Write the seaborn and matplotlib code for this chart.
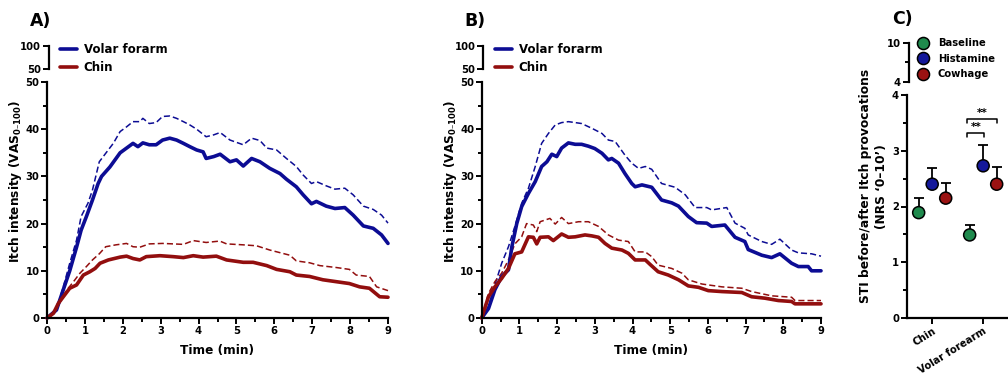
import numpy as np
import pandas as pd
import matplotlib
matplotlib.use("Agg")
import matplotlib.pyplot as plt
from matplotlib.lines import Line2D
from matplotlib.ticker import MultipleLocator
import seaborn as sns

# ---------------- data ----------------
# Panel A: mean (solid) and mean+SEM (dashed), itch intensity VAS 0-100
tA_vf = [0, 0.25, 0.43, 0.6, 0.78, 0.9, 1.04, 1.2, 1.35, 1.44, 1.66, 1.93, 2.1, 2.27, 2.4, 2.53, 2.7, 2.88, 3.05, 3.24,
         3.42, 3.6, 3.77, 3.95, 4.12, 4.2, 4.4, 4.57, 4.83, 5.0, 5.18, 5.4, 5.62, 5.88, 6.15, 6.32, 6.58, 6.76, 6.98, 7.11,
         7.37, 7.6, 7.86, 8.08, 8.35, 8.61, 8.83, 9.0]
vA_vf = [0, 1.7, 6, 10, 15, 18.6, 21.5, 25, 28.5, 30, 32, 35, 36, 37, 36.3, 37.1, 36.7, 36.7, 37.7, 38.1,
         37.7, 37, 36.3, 35.6, 35.2, 33.8, 34.2, 34.7, 33.1, 33.5, 32.2, 33.8, 33.1, 31.7, 30.6, 29.4, 27.8, 26.1, 24.2, 24.7,
         23.7, 23.2, 23.4, 21.8, 19.5, 19, 17.6, 15.8]
tA_vf_up = [0, 0.25, 0.43, 0.6, 0.78, 0.9, 1.08, 1.2, 1.38, 1.55, 1.75, 1.93, 2.1, 2.27, 2.45, 2.53, 2.7, 2.88, 3.05, 3.24,
            3.42, 3.6, 3.77, 3.95, 4.2, 4.4, 4.57, 4.83, 5.18, 5.4, 5.62, 5.8, 6.06, 6.32, 6.58, 6.76, 6.98, 7.11, 7.37, 7.6,
            7.86, 8.08, 8.35, 8.61, 8.83, 9.0]
vA_vf_up = [0, 1.8, 6.6, 11.6, 16.5, 21.5, 24.3, 27.1, 33.1, 34.9, 37, 39.5, 40.5, 41.6, 41.6, 42.3, 41.2, 41.4, 42.7, 42.8,
            42.3, 41.6, 40.9, 40, 38.4, 38.8, 39.3, 37.7, 36.7, 38.1, 37.6, 36, 35.6, 33.8, 32.1, 30.3, 28.5, 28.9, 28, 27.3,
            27.5, 26.1, 23.7, 23, 21.8, 20.1]
tA_chin = [0, 0.17, 0.3, 0.43, 0.6, 0.78, 0.96, 1.13, 1.27, 1.4, 1.62, 1.93, 2.1, 2.27, 2.45, 2.62, 2.98, 3.33, 3.6, 3.86,
           4.12, 4.47, 4.74, 5.18, 5.44, 5.8, 6.06, 6.41, 6.58, 6.93, 7.28, 7.63, 7.98, 8.25, 8.51, 8.78, 9.0]
vA_chin = [0, 1, 3.1, 4.5, 6.3, 7, 9.1, 9.8, 10.5, 11.6, 12.3, 12.9, 13.1, 12.6, 12.3, 13, 13.2, 13, 12.8, 13.2,
           12.9, 13.1, 12.3, 11.8, 11.8, 11.1, 10.3, 9.8, 9.1, 8.8, 8.1, 7.7, 7.3, 6.6, 6.3, 4.5, 4.4]
tA_chin_up = [0, 0.17, 0.35, 0.52, 0.7, 0.87, 1.04, 1.2, 1.38, 1.55, 1.82, 2.1, 2.27, 2.45, 2.7, 3.05, 3.33, 3.6, 3.86, 4.2,
              4.56, 4.74, 5.18, 5.53, 5.88, 6.41, 6.58, 6.93, 7.2, 7.63, 7.98, 8.16, 8.51, 8.7, 9.0]
vA_chin_up = [0, 1.1, 3.5, 5.9, 7.7, 9.5, 10.9, 12.3, 13.6, 15.1, 15.5, 15.8, 15.1, 15, 15.7, 15.8, 15.7, 15.6, 16.4, 16,
              16.3, 15.7, 15.5, 15.3, 14.4, 13.3, 12.1, 11.7, 11.1, 10.7, 10.3, 9.1, 8.8, 6.6, 5.8]

# Panel B
tB_vf = [0, 0.18, 0.35, 0.53, 0.71, 0.8, 0.93, 1.06, 1.24, 1.42, 1.59, 1.73, 1.86, 1.99, 2.12, 2.3, 2.48, 2.65, 2.83, 3.0,
         3.19, 3.36, 3.45, 3.63, 3.8, 3.98, 4.07, 4.25, 4.51, 4.77, 5.04, 5.22, 5.48, 5.7, 5.97, 6.1, 6.45, 6.72, 6.98, 7.07,
         7.43, 7.69, 7.91, 8.22, 8.4, 8.66, 8.75, 9.0]
vB_vf = [0, 2, 6, 8.8, 10.2, 15.1, 20, 23.6, 26.4, 28.9, 32.1, 33.1, 34.7, 34.2, 36, 37.1, 36.8, 36.8, 36.4, 35.9,
         34.9, 33.5, 33.8, 32.8, 30.6, 28.5, 27.8, 28.2, 27.7, 25, 24.4, 23.7, 21.5, 20.2, 20.1, 19.4, 19.7, 17.1, 16.2, 14.5,
         13.3, 12.8, 13.6, 11.6, 10.9, 10.9, 10, 10]
tB_vf_up = [0, 0.18, 0.35, 0.53, 0.71, 0.88, 1.06, 1.24, 1.42, 1.59, 1.77, 1.95, 2.12, 2.3, 2.48, 2.65, 2.92, 3.19, 3.36, 3.54,
            3.8, 3.98, 4.16, 4.34, 4.51, 4.77, 5.13, 5.4, 5.66, 5.97, 6.1, 6.5, 6.72, 6.98, 7.07, 7.43, 7.69, 7.91, 8.22, 8.4,
            8.75, 9.0]
vB_vf_up = [0, 2.4, 7, 11.6, 15.1, 19.4, 24.3, 27.5, 32.1, 37, 39.1, 40.9, 41.4, 41.6, 41.4, 41.2, 40.2, 39.1, 37.7, 37.4,
            34.5, 32.8, 31.7, 32.1, 31.5, 28.5, 27.7, 26.1, 23.4, 23.4, 22.9, 23.4, 20.1, 19, 17.6, 16.2, 15.6, 16.7, 14.4, 13.8,
            13.6, 13.1]
tB_chin = [0, 0.18, 0.35, 0.53, 0.71, 0.88, 1.06, 1.24, 1.37, 1.46, 1.55, 1.77, 1.9, 2.12, 2.3, 2.48, 2.74, 2.92, 3.1, 3.27,
           3.45, 3.72, 3.89, 4.07, 4.34, 4.46, 4.68, 4.95, 5.22, 5.48, 5.75, 6.01, 6.37, 6.9, 7.16, 7.51, 7.87, 8.22, 8.31, 9.0]
vB_chin = [0, 4.5, 6.6, 8.4, 10.5, 13.6, 14, 17.2, 17.1, 15.7, 17.1, 17.2, 16.4, 17.8, 17.1, 17.2, 17.6, 17.4, 17.1, 15.8,
           14.8, 14.4, 13.7, 12.3, 12.3, 11.4, 9.8, 9.1, 8.1, 6.8, 6.5, 5.8, 5.6, 5.4, 4.5, 4.2, 3.7, 3.5, 3, 3]
tB_chin_up = [0, 0.18, 0.35, 0.53, 0.71, 0.88, 1.06, 1.19, 1.37, 1.46, 1.55, 1.81, 1.95, 2.12, 2.3, 2.57, 2.83, 3.1, 3.36, 3.63,
              3.89, 4.07, 4.34, 4.51, 4.68, 5.04, 5.31, 5.48, 5.84, 6.37, 6.9, 7.16, 7.69, 8.22, 8.31, 9.0]
vB_chin_up = [0, 5.2, 7.7, 9.5, 12.3, 15.7, 17.2, 20, 19.7, 18.3, 20.4, 21.1, 19.9, 21.3, 20, 20.4, 20.4, 19.4, 17.6, 16.5,
              16.2, 14, 14, 13, 11.2, 10.5, 9.5, 8.1, 7.2, 6.6, 6.3, 5.6, 4.7, 4.4, 3.7, 3.7]

# Panel C
sites = ["Chin", "Volar forearm"]
conditions = ["Baseline", "Histamine", "Cowhage"]
means_chin = [1.89, 2.40, 2.15]
sem_chin = [0.26, 0.29, 0.27]
means_vf = [1.49, 2.73, 2.40]
sem_vf = [0.18, 0.37, 0.30]

series_labels = ["Volar forarm", "Chin"]

# ---------------- style ----------------
sns.set_theme(style="ticks")
plt.rcParams["font.family"] = ["DejaVu Sans"]
plt.rcParams["font.weight"] = "bold"
plt.rcParams["axes.labelweight"] = "bold"
plt.rcParams["axes.linewidth"] = 1.6
for k in ["text.color", "axes.labelcolor", "xtick.color", "ytick.color", "axes.edgecolor"]:
    plt.rcParams[k] = "black"

BLUE = "#0c0c94"
RED = "#920e0e"
C_GREEN = "#1f8a4d"
C_BLUE = "#14189a"
C_RED = "#9a1212"

W, H = 1008, 375
fig = plt.figure(figsize=(W / 100, H / 100), dpi=100)


def add_axes_px(left, top, right, bottom):
    return fig.add_axes([left / W, 1 - bottom / H, (right - left) / W, (bottom - top) / H])


def style_ax(ax):
    for s in ["top", "right"]:
        ax.spines[s].set_visible(False)
    for s in ["left", "bottom"]:
        ax.spines[s].set_linewidth(1.6)
    ax.tick_params(which="major", length=4, width=1.4, labelsize=7.2, direction="out", pad=1.5, color="black")
    ax.tick_params(which="minor", length=3, width=1.4, direction="out", color="black")
    ax.grid(False)
    ax.set_facecolor("none")


def top_break(ax, lo, hi, ticks, minor=None):
    style_ax(ax)
    ax.spines["bottom"].set_visible(False)
    ax.set_ylim(lo, hi)
    ax.set_yticks(ticks)
    if minor is not None:
        ax.set_yticks(minor, minor=True)
    ax.set_xticks([])
    ax.set_xlim(0, 1)
    ax.patch.set_alpha(0)


def time_panel(left, right, data, letter, leg_x):
    ax = add_axes_px(left, 82, right, 318)
    axt = add_axes_px(left + 1.5, 46, left + 15, 68.7)
    (t_vf, v_vf, t_vfu, v_vfu, t_ch, v_ch, t_chu, v_chu) = data
    sns.lineplot(x=t_vfu, y=v_vfu, ax=ax, color=BLUE, lw=1.1, linestyle=(0, (4, 2)), errorbar=None, clip_on=False)
    sns.lineplot(x=t_chu, y=v_chu, ax=ax, color=RED, lw=1.1, linestyle=(0, (4, 2)), errorbar=None, clip_on=False)
    sns.lineplot(x=t_vf, y=v_vf, ax=ax, color=BLUE, lw=2.6, errorbar=None, clip_on=False)
    sns.lineplot(x=t_ch, y=v_ch, ax=ax, color=RED, lw=2.6, errorbar=None, clip_on=False)
    style_ax(ax)
    ax.set_xlim(0, 9)
    ax.set_ylim(0, 50)
    ax.set_xticks(range(0, 10))
    ax.xaxis.set_minor_locator(MultipleLocator(0.5))
    ax.set_yticks(range(0, 51, 10))
    ax.yaxis.set_minor_locator(MultipleLocator(5))
    ax.set_xlabel("Time (min)", fontsize=8.7, labelpad=6)
    ax.set_ylabel("Itch intensity (VAS$_{\\mathbf{0\u2013100}}$)", fontsize=8.7)
    ax.yaxis.set_label_coords(-0.068, 0.58)
    top_break(axt, 50, 100, [50, 100])
    handles = [Line2D([], [], color=BLUE, lw=2.6), Line2D([], [], color=RED, lw=2.6)]
    fig.legend(handles, series_labels, loc="upper left", bbox_to_anchor=(leg_x / W, 1 - 43 / H),
               frameon=False, fontsize=8.5, handlelength=1.45, handletextpad=0.55, labelspacing=0.4,
               borderpad=0, borderaxespad=0)
    fig.text((left - 17) / W, 1 - 21 / H, letter, fontsize=12.5, fontweight="bold", ha="left", va="center")
    return ax


time_panel(47, 388, (tA_vf, vA_vf, tA_vf_up, vA_vf_up, tA_chin, vA_chin, tA_chin_up, vA_chin_up), "A)", 60)
time_panel(481.7, 821, (tB_vf, vB_vf, tB_vf_up, vB_vf_up, tB_chin, vB_chin, tB_chin_up, vB_chin_up), "B)", 495)

# ---------------- Panel C ----------------
axC = add_axes_px(906.7, 95, 1010.7, 318)
axCt = add_axes_px(908.5, 43.3, 920, 81.7)
offsets = [-0.265, 0.0, 0.265]
rows = []
for si, (site, means, sems) in enumerate([(sites[0], means_chin, sem_chin), (sites[1], means_vf, sem_vf)]):
    for ci, cond in enumerate(conditions):
        rows.append({"site": site, "condition": cond, "x": si + offsets[ci], "mean": means[ci], "sem": sems[ci]})
dfC = pd.DataFrame(rows)

axC.errorbar(dfC["x"], dfC["mean"], yerr=[np.zeros(len(dfC)), dfC["sem"]], fmt="none", ecolor="black",
             elinewidth=1.3, capsize=3.5, capthick=1.3, zorder=2, clip_on=False)
palC = {"Baseline": C_GREEN, "Histamine": C_BLUE, "Cowhage": C_RED}
sns.scatterplot(data=dfC, x="x", y="mean", hue="condition", palette=palC, s=75, edgecolor="black",
                linewidth=1.1, zorder=3, legend=False, ax=axC, clip_on=False)
style_ax(axC)
axC.set_xlim(-0.5, 1.54)
axC.set_ylim(0, 4)
axC.set_yticks([0, 1, 2, 3, 4])
axC.yaxis.set_minor_locator(MultipleLocator(0.5))
axC.set_xticks([0, 1])
axC.set_xticklabels(sites, rotation=32, ha="right", rotation_mode="anchor", fontsize=7.2)
axC.tick_params(axis="x", length=4, pad=1.5)
axC.set_xlabel("")
axC.set_ylabel("STI before/after Itch provocations\n(NRS \u20180\u201310\u2019)", fontsize=8.8, linespacing=1.3)
axC.yaxis.set_label_coords(-0.18, 0.59)

# significance brackets
for (x0, x1, yb, yt) in [(0.69, 1.02, 3.31, 3.24), (0.69, 1.27, 3.57, 3.50)]:
    axC.plot([x0, x0, x1, x1], [yt, yb, yb, yt], color="black", lw=1.1, clip_on=False)
    axC.text((x0 + x1) / 2, yb + 0.02, "**", ha="center", va="bottom", fontsize=7.5, fontweight="bold")

top_break(axCt, 4, 10, [4, 10], minor=[7])

handlesC = [Line2D([], [], marker="o", ls="", markerfacecolor=palC[c], markeredgecolor="black",
                   markeredgewidth=1.1, markersize=8.7) for c in conditions]
fig.legend(handlesC, conditions, loc="upper left", bbox_to_anchor=(917 / W, 1 - 38 / H), frameon=False,
           fontsize=7.2, handlelength=1.2, handletextpad=0.9, labelspacing=0.55, borderpad=0, borderaxespad=0)
fig.text(892 / W, 1 - 19 / H, "C)", fontsize=12.5, fontweight="bold", ha="left", va="center")

fig.savefig("out.png", dpi=100)
